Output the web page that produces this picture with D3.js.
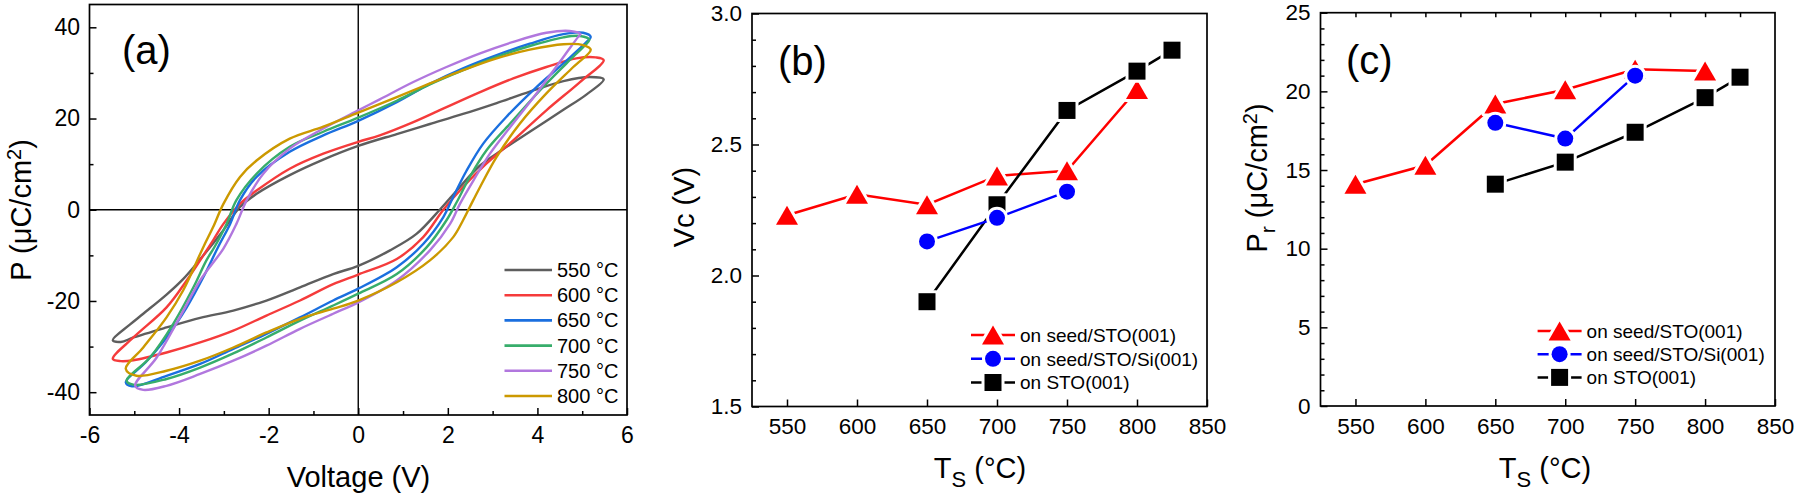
<!DOCTYPE html>
<html>
<head>
<meta charset="utf-8">
<script src="https://cdn.jsdelivr.net/npm/d3@7"></script>
<style>
  body { margin: 0; background: #fff; }
  svg text { font-family: "Liberation Sans", Arial, sans-serif; fill: #000; }
</style>
</head>
<body>
<svg id="fig"></svg>
<script>
// ---------- panel (a): P-V hysteresis loops, [V, P] ----------
const voltTicks = [-6, -4, -2, 0, 2, 4, 6];
const voltTickLabels = ['-6', '-4', '-2', '0', '2', '4', '6'];
const voltMinor = [-5, -3, -1, 1, 3, 5];
const polTicks = [-40, -20, 0, 20, 40];
const polTickLabels = ['-40', '-20', '0', '20', '40'];
const polMinor = [-30, -10, 10, 30];
const loopNames = ['550 °C', '600 °C', '650 °C', '700 °C', '750 °C', '800 °C'];

const loop550 = [[5.48,28.6],[5.17,29.1],[4.58,28.2],[3.83,25.9],[3.09,23.4],[2.34,21.0],[1.6,18.8],[0.86,16.6],[0,14.0],[-0.78,11.0],[-1.53,7.6],[-2.27,3.5],[-2.64,0.6],[-3.05,-5.0],[-3.55,-11.1],[-3.91,-15.2],[-4.28,-18.6],[-4.8,-22.8],[-5.1,-25.2],[-5.48,-28.6],[-5.3,-29.0],[-5.02,-28.0],[-4.28,-25.8],[-3.53,-23.7],[-2.79,-22.1],[-2.05,-19.9],[-1.3,-17.0],[-0.56,-14.1],[0,-12.3],[0.71,-8.9],[1.3,-5.3],[1.82,0],[2.27,5.0],[2.72,9.7],[3.24,13.3],[3.83,17.1],[4.58,21.9],[5.1,25.3]];
const loop600 = [[5.48,32.8],[5.3,33.4],[4.87,33.2],[4.2,31.3],[3.46,28.8],[2.72,25.8],[1.97,22.5],[1.23,19.2],[0.48,16.3],[0,14.9],[-0.78,12.3],[-1.53,9.0],[-2.27,4.2],[-2.64,1.3],[-3.01,-3.1],[-3.24,-6.7],[-3.53,-11.1],[-3.83,-15.5],[-4.28,-21.4],[-5.02,-28.0],[-5.48,-32.7],[-5.3,-33.2],[-5.02,-33.0],[-4.28,-31.3],[-3.53,-29.1],[-2.79,-26.5],[-2.05,-23.2],[-1.3,-19.9],[-0.56,-16.3],[0,-14.2],[0.86,-10.8],[1.45,-6.0],[1.9,0],[2.34,5.0],[2.86,10.1],[3.46,15.2],[4.2,21.8],[4.95,28.0]];
const loop650 = [[5.19,37.9],[5.02,38.8],[4.58,38.5],[3.83,36.4],[3.09,33.9],[2.34,31.0],[1.6,27.6],[0.86,23.6],[0,19.5],[-0.78,16.3],[-1.53,12.7],[-2.27,7.2],[-2.64,2.1],[-2.86,-3.1],[-3.12,-8.0],[-3.46,-14.8],[-3.83,-21.4],[-4.28,-28.0],[-4.75,-33.5],[-5.19,-37.8],[-5.05,-38.7],[-4.28,-36.4],[-3.53,-33.8],[-2.79,-30.5],[-2.05,-27.2],[-1.3,-23.6],[-0.56,-19.9],[0,-17.3],[0.86,-12.6],[1.45,-7.5],[1.9,-1.6],[2.12,2.8],[2.42,8.6],[2.79,14.5],[3.31,20.4],[3.98,26.9],[4.58,32.1],[5.1,36.8]];
const loop700 = [[5.16,37.3],[4.95,38.1],[4.58,37.8],[3.83,35.9],[3.09,33.5],[2.34,30.6],[1.6,27.5],[0.86,23.9],[0,20.2],[-0.78,17.1],[-1.53,13.8],[-2.27,7.9],[-2.72,2.1],[-2.94,-3.1],[-3.2,-8.0],[-3.39,-11.1],[-3.68,-17.0],[-4.13,-25.0],[-4.65,-32.4],[-5.17,-37.5],[-5.0,-38.4],[-4.28,-37.1],[-3.53,-34.6],[-2.79,-31.5],[-2.05,-28.0],[-1.3,-24.3],[-0.56,-21.0],[0,-18.4],[0.86,-14.1],[1.53,-8.2],[1.97,-2.3],[2.2,1.7],[2.49,7.2],[2.86,13.0],[3.39,18.9],[4.06,26.2],[4.65,32.1],[5.13,36.8]];
const loop750 = [[4.96,38.5],[4.72,39.2],[4.2,38.8],[3.46,36.8],[2.72,34.3],[1.97,31.3],[1.23,28.0],[0.48,24.2],[0,21.8],[-0.78,17.8],[-1.53,13.4],[-2.12,7.9],[-2.49,2.1],[-2.72,-3.1],[-3.01,-8.5],[-3.53,-15.5],[-3.98,-23.5],[-4.5,-32.4],[-4.98,-38.6],[-4.8,-39.5],[-4.28,-38.6],[-3.53,-36.0],[-2.79,-33.1],[-2.05,-29.8],[-1.3,-26.1],[-0.56,-22.8],[0,-20.3],[0.86,-15.5],[1.6,-8.9],[2.05,-3.1],[2.27,1.3],[2.57,6.4],[2.94,12.3],[3.39,18.1],[3.98,25.5],[4.58,33.5],[4.91,37.9]];
const loop800 = [[5.19,35.1],[5.02,36.1],[4.58,36.3],[3.83,35.1],[3.09,33.2],[2.34,30.6],[1.6,27.7],[0.86,24.7],[0,21.3],[-0.78,18.2],[-1.53,15.6],[-2.27,10.8],[-2.64,7.2],[-3.01,1.3],[-3.24,-3.8],[-3.46,-8.2],[-3.91,-17.7],[-4.28,-23.6],[-4.8,-30.2],[-5.19,-34.9],[-4.95,-36.4],[-4.28,-35.3],[-3.53,-33.1],[-2.79,-30.2],[-2.05,-26.9],[-1.3,-23.9],[-0.56,-21.7],[0,-19.9],[0.86,-15.9],[1.6,-11.1],[2.12,-6.0],[2.34,-2.3],[2.49,0.6],[2.72,5.0],[3.09,11.6],[3.61,18.9],[4.2,25.5],[4.8,31.3]];

// ---------- panels (b) and (c): vs. growth temperature ----------
const tsTicks = [550, 600, 650, 700, 750, 800, 850];
const tsTickLabels = ['550', '600', '650', '700', '750', '800', '850'];
const vcTicks = [1.5, 2.0, 2.5, 3.0];
const vcTickLabels = ['1.5', '2.0', '2.5', '3.0'];
const prTicks = [0, 5, 10, 15, 20, 25];
const prTickLabels = ['0', '5', '10', '15', '20', '25'];
const seriesNames = ['on seed/STO(001)', 'on seed/STO/Si(001)', 'on STO(001)'];

const tsSeed = [550, 600, 650, 700, 750, 800];
const tsSeedSi = [650, 700, 750];
const tsSto = [650, 700, 750, 800, 825];
const vcSeed = [2.23, 2.31, 2.27, 2.38, 2.40, 2.71];
const vcSeedSi = [2.13, 2.22, 2.32];
const vcSto = [1.90, 2.27, 2.63, 2.78, 2.86];
const prSeed = [14.1, 15.3, 19.2, 20.1, 21.4, 21.3];
const prSeedSi = [18.0, 17.0, 21.0];
const prSto = [14.1, 15.5, 17.4, 19.6, 20.9];

// ---------- styles ----------
const loopColors = ['#5e5e5e', '#f53b3b', '#1a6fdf', '#37ad6b', '#b177de', '#cc9900'];
const seriesColors = ['#ff0000', '#0000ff', '#000000'];
const seriesShapes = ['triangle', 'circle', 'square'];
const FONT = '"Liberation Sans", Arial, sans-serif';

const svg = d3.select('#fig').attr('width', 1797).attr('height', 497);
svg.append('rect').attr('width', 1797).attr('height', 497).attr('fill', '#fff');

function makePanel(box) {
  const g = svg.append('g').attr('transform', `translate(${box.left},${box.top})`);
  return { g: g, width: box.right - box.left, height: box.bottom - box.top };
}

function addAxis(g, axis, transform, fontSize) {
  const a = g.append('g').attr('transform', transform).call(axis);
  a.attr('font-family', null).attr('font-size', null);
  a.select('.domain').remove();
  a.selectAll('line').attr('stroke', '#000').attr('stroke-width', 1.5);
  a.selectAll('text').attr('font-size', fontSize).attr('font-family', FONT).attr('fill', '#000');
  return a;
}

function frame(p) {
  p.g.append('rect').attr('width', p.width).attr('height', p.height)
    .attr('fill', 'none').attr('stroke', '#000').attr('stroke-width', 1.7);
}

function markerPath(shape) {
  if (shape === 'triangle') return 'M0,-9.5L11,9.5L-11,9.5Z';
  if (shape === 'square') return 'M-8.5,-8.5H8.5V8.5H-8.5Z';
  return d3.symbol(d3.symbolCircle, Math.PI * 64)();
}

function marker(g, x, y, color, shape) {
  g.append('path').attr('d', markerPath(shape))
    .attr('transform', `translate(${x},${y})`)
    .attr('fill', color).attr('stroke', '#fff').attr('stroke-width', 6)
    .attr('stroke-linejoin', 'round').attr('paint-order', 'stroke');
}

function drawSeries(g, x, y, xs, ys, color, shape) {
  const pts = xs.map((d, i) => [x(d), y(ys[i])]);
  g.append('path').attr('d', d3.line()(pts))
    .attr('fill', 'none').attr('stroke', color).attr('stroke-width', 2.5);
  pts.forEach(p => marker(g, p[0], p[1], color, shape));
}

// ================= panel (a) =================
const pa = makePanel({ left: 89.5, top: 4.5, right: 627, bottom: 415 });
const xA = d3.scaleLinear().domain([-6, 6]).range([0, pa.width]);
const yA = d3.scaleLinear().domain([-45, 45]).range([pa.height, 0]);

addAxis(pa.g, d3.axisBottom(xA).tickValues(voltTicks).tickSizeInner(-7).tickSizeOuter(0).tickPadding(12)
  .tickFormat((d, i) => voltTickLabels[i]), `translate(0,${pa.height})`, 23);
addAxis(pa.g, d3.axisBottom(xA).tickValues(voltMinor).tickSizeInner(-4).tickSizeOuter(0).tickFormat(''),
  `translate(0,${pa.height})`, 23);
addAxis(pa.g, d3.axisLeft(yA).tickValues(polTicks).tickSizeInner(-7).tickSizeOuter(0).tickPadding(9.5)
  .tickFormat((d, i) => polTickLabels[i]), 'translate(0,0)', 23);
addAxis(pa.g, d3.axisLeft(yA).tickValues(polMinor).tickSizeInner(-4).tickSizeOuter(0).tickFormat(''),
  'translate(0,0)', 23);

// zero lines
pa.g.append('line').attr('x1', xA(0)).attr('x2', xA(0)).attr('y1', 0).attr('y2', pa.height)
  .attr('stroke', '#000').attr('stroke-width', 1.4);
pa.g.append('line').attr('x1', 0).attr('x2', pa.width).attr('y1', yA(0)).attr('y2', yA(0))
  .attr('stroke', '#000').attr('stroke-width', 1.4);

const loopLine = d3.line().x(d => xA(d[0])).y(d => yA(d[1])).curve(d3.curveCatmullRomClosed.alpha(0.5));
[loop550, loop600, loop650, loop700, loop750, loop800].forEach((loop, i) => {
  pa.g.append('path').attr('d', loopLine(loop))
    .attr('fill', 'none').attr('stroke', loopColors[i]).attr('stroke-width', 2.4)
    .attr('stroke-linejoin', 'round');
});
frame(pa);

// legend (a)
loopNames.forEach((name, i) => {
  const ly = 265.5 + i * 25.2;
  pa.g.append('line').attr('x1', 415).attr('x2', 462.5).attr('y1', ly).attr('y2', ly)
    .attr('stroke', loopColors[i]).attr('stroke-width', 2.6);
  pa.g.append('text').attr('x', 467.5).attr('y', ly + 7).attr('font-size', 20).text(name);
});

pa.g.append('text').attr('x', 32.5).attr('y', 59.5).attr('font-size', 40).text('(a)');
svg.append('text').attr('x', 358.5).attr('y', 487).attr('text-anchor', 'middle')
  .attr('font-size', 29).text('Voltage (V)');
const ylA = svg.append('text').attr('transform', 'translate(31,210) rotate(-90)')
  .attr('text-anchor', 'middle').attr('font-size', 29);
ylA.append('tspan').text('P (μC/cm');
ylA.append('tspan').attr('font-size', 20).attr('dy', -10).text('2');
ylA.append('tspan').attr('dy', 10).text(')');

// ================= panels (b) and (c) =================
function tsLabel(cx) {
  const t = svg.append('text').attr('x', cx).attr('y', 478).attr('text-anchor', 'middle').attr('font-size', 29);
  t.append('tspan').text('T');
  t.append('tspan').attr('font-size', 22).attr('dy', 9).text('S');
  t.append('tspan').attr('dy', -9).text(' (°C)');
}

function seriesLegend(p, lx, rows) {
  seriesNames.forEach((name, i) => {
    const ly = rows[i] - p.top;
    p.g.append('line').attr('x1', lx - 22).attr('x2', lx + 22).attr('y1', ly).attr('y2', ly)
      .attr('stroke', seriesColors[i]).attr('stroke-width', 2.5);
    marker(p.g, lx, ly, seriesColors[i], seriesShapes[i]);
    p.g.append('text').attr('x', lx + 27).attr('y', ly + 6.8).attr('font-size', 19).text(name);
  });
}

// panel (b)
const boxB = { left: 752, top: 13.5, right: 1207, bottom: 406.5 };
const pb = makePanel(boxB);
pb.top = boxB.top;
const xB = d3.scaleLinear().domain([525, 850]).range([0, pb.width]);
const yB = d3.scaleLinear().domain([1.5, 3.0]).range([pb.height, 0]);
addAxis(pb.g, d3.axisBottom(xB).tickValues(tsTicks).tickSizeInner(-7).tickSizeOuter(0).tickPadding(12)
  .tickFormat((d, i) => tsTickLabels[i]), `translate(0,${pb.height})`, 22.5);
addAxis(pb.g, d3.axisLeft(yB).tickValues(vcTicks).tickSizeInner(-7).tickSizeOuter(0).tickPadding(10)
  .tickFormat((d, i) => vcTickLabels[i]), 'translate(0,0)', 22.5);
addAxis(pb.g, d3.axisLeft(yB).tickValues(d3.range(16).map(i => 1.5 + i * 0.1).filter((d, i) => i % 5 !== 0))
  .tickSizeInner(-4).tickSizeOuter(0).tickFormat(''), 'translate(0,0)', 22.5);

drawSeries(pb.g, xB, yB, tsSeed, vcSeed, seriesColors[0], seriesShapes[0]);
drawSeries(pb.g, xB, yB, tsSto, vcSto, seriesColors[2], seriesShapes[2]);
drawSeries(pb.g, xB, yB, tsSeedSi, vcSeedSi, seriesColors[1], seriesShapes[1]);
frame(pb);
seriesLegend(pb, 993 - boxB.left, [335, 358.8, 382.5]);

pb.g.append('text').attr('x', 26).attr('y', 61.5).attr('font-size', 40).text('(b)');
tsLabel(980);
const ylB = svg.append('text').attr('transform', 'translate(694,207) rotate(-90)')
  .attr('text-anchor', 'middle').attr('font-size', 29);
ylB.append('tspan').text('V');
ylB.append('tspan').text('c');
ylB.append('tspan').text(' (V)');

// panel (c)
const boxC = { left: 1320.5, top: 12.7, right: 1775, bottom: 406 };
const pc = makePanel(boxC);
pc.top = boxC.top;
const xC = d3.scaleLinear().domain([525, 850]).range([0, pc.width]);
const yC = d3.scaleLinear().domain([0, 25]).range([pc.height, 0]);
addAxis(pc.g, d3.axisBottom(xC).tickValues(tsTicks).tickSizeInner(-7).tickSizeOuter(0).tickPadding(12)
  .tickFormat((d, i) => tsTickLabels[i]), `translate(0,${pc.height})`, 22.5);
addAxis(pc.g, d3.axisTop(xC).tickValues(d3.range(550, 850, 25)).tickSizeInner(-4.5).tickSizeOuter(0)
  .tickFormat(''), 'translate(0,0)', 22.5);
addAxis(pc.g, d3.axisLeft(yC).tickValues(prTicks).tickSizeInner(-7).tickSizeOuter(0).tickPadding(10)
  .tickFormat((d, i) => prTickLabels[i]), 'translate(0,0)', 22.5);
addAxis(pc.g, d3.axisLeft(yC).tickValues(d3.range(26).filter(d => d % 5 !== 0))
  .tickSizeInner(-4).tickSizeOuter(0).tickFormat(''), 'translate(0,0)', 22.5);

drawSeries(pc.g, xC, yC, tsSeed, prSeed, seriesColors[0], seriesShapes[0]);
drawSeries(pc.g, xC, yC, tsSto, prSto, seriesColors[2], seriesShapes[2]);
drawSeries(pc.g, xC, yC, tsSeedSi, prSeedSi, seriesColors[1], seriesShapes[1]);
frame(pc);
seriesLegend(pc, 1559.6 - boxC.left, [331, 354.2, 377.4]);

pc.g.append('text').attr('x', 25.5).attr('y', 61.5).attr('font-size', 40).text('(c)');
tsLabel(1545);
const ylC = svg.append('text').attr('transform', 'translate(1267,178) rotate(-90)')
  .attr('text-anchor', 'middle').attr('font-size', 29);
ylC.append('tspan').text('P');
ylC.append('tspan').attr('font-size', 21).attr('dy', 8).text('r');
ylC.append('tspan').attr('dy', -8).text(' (μC/cm');
ylC.append('tspan').attr('font-size', 20).attr('dy', -10).text('2');
ylC.append('tspan').attr('dy', 10).text(')');
</script>
</body>
</html>
